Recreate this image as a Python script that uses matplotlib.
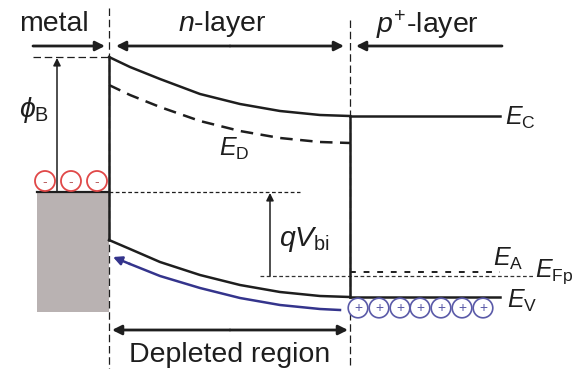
import matplotlib
matplotlib.use("Agg")
import matplotlib.pyplot as plt
from matplotlib.patches import Rectangle, Circle

plt.rcParams['font.family'] = ['Liberation Sans', 'DejaVu Sans']
plt.rcParams['mathtext.fontset'] = 'custom'
plt.rcParams['mathtext.rm'] = 'Liberation Sans'
plt.rcParams['mathtext.it'] = 'Liberation Sans:italic'
plt.rcParams['mathtext.bf'] = 'Liberation Sans:bold'

# layer boundaries (diagram units, y grows downward)
x_metal = 37
x_interface = 109
x_junction = 350
x_right = 500

# band levels in the n-layer, sampled along x
band_x = [109, 130, 160, 200, 240, 280, 320, 350]
ec_y = [57, 67, 79, 94, 104, 111, 115, 116]
ed_y = [85, 95, 107, 121, 131, 138, 142, 143]
ev_y = [240, 249, 262, 275, 285, 292, 296, 297]
hole_x = [113, 130, 160, 200, 240, 280, 320, 340]
hole_y = [257, 264, 276, 288, 298, 305, 309, 310]

barrier_top = 57
fermi_metal = 192
fermi_p = 276
acceptor = 272
metal_bottom = 312

electrons_x = [45, 71, 97]
electrons_y = 181
holes_x = [358, 379, 400, 420, 441, 462, 483]
holes_y = 308

INK = '#1e1e1e'
BLUE = '#34348c'

fig = plt.figure(figsize=(5.77, 3.69), dpi=100)
ax = fig.add_axes([0, 0, 1, 1])
ax.set_xlim(0, 577)
ax.set_ylim(369, 0)
ax.axis('off')

# metal block
ax.add_patch(Rectangle((x_metal, fermi_metal), x_interface - x_metal,
                       metal_bottom - fermi_metal, facecolor='#b9b2b2',
                       edgecolor='none', zorder=1))
ax.plot([x_metal, x_interface], [fermi_metal, fermi_metal], color=INK, lw=1.6, zorder=3)

# region borders
ax.plot([x_interface, x_interface], [8, 369], color=INK, lw=0.9, ls=(0, (6, 3)), zorder=2)
ax.plot([x_junction, x_junction], [20, 369], color=INK, lw=0.9, ls=(0, (6, 3)), zorder=2)
ax.plot([x_interface, x_interface], [barrier_top, ev_y[0]], color=INK, lw=1.8, zorder=3)
ax.plot([x_junction, x_junction], [ec_y[-1], ev_y[-1]], color=INK, lw=1.8, zorder=3)

# bands
ax.plot(band_x, ec_y, color=INK, lw=1.8, zorder=3)
ax.plot([x_junction, x_right], [ec_y[-1], ec_y[-1]], color=INK, lw=1.8, zorder=3)
ax.plot(band_x, ed_y, color=INK, lw=1.8, ls=(0, (5, 3)), zorder=3)
ax.plot(band_x, ev_y, color=INK, lw=1.8, zorder=3)
ax.plot([x_junction, x_right], [ev_y[-1], ev_y[-1]], color=INK, lw=1.8, zorder=3)

# Fermi levels and acceptor level
ax.plot([x_interface, 300], [fermi_metal, fermi_metal], color=INK, lw=0.9, ls=(0, (3, 2)), zorder=2)
ax.plot([260, 535], [fermi_p, fermi_p], color='#333333', lw=0.9, ls=(0, (3, 2)), zorder=2)
ax.plot([x_junction, x_right], [acceptor, acceptor], color=INK, lw=1.4, ls=(0, (3, 4)), zorder=2)
ax.plot([33, x_interface], [barrier_top, barrier_top], color=INK, lw=0.9, ls=(0, (6, 3)), zorder=2)

# hole flow towards the metal
ax.plot(hole_x[1:], hole_y[1:], color=BLUE, lw=1.8, zorder=3)
ax.annotate('', xy=(hole_x[0], hole_y[0]), xytext=(hole_x[1], hole_y[1]),
            arrowprops=dict(arrowstyle='-|>', color=BLUE, lw=1.8, mutation_scale=13,
                            shrinkA=0, shrinkB=0), zorder=3)

# charges
for cx in electrons_x:
    ax.add_patch(Circle((cx, electrons_y), 10, facecolor='white', edgecolor='#e04848',
                        lw=1.3, zorder=4))
    ax.text(cx, electrons_y + 1, '-', color='#b86060', fontsize=10, ha='center',
            va='center', zorder=5)
for cx in holes_x:
    ax.add_patch(Circle((cx, holes_y), 9.8, facecolor='white', edgecolor='#5a5aa8',
                        lw=1.2, zorder=4))
    ax.text(cx, holes_y, '+', color='#5a5aa8', fontsize=10, ha='center',
            va='center', zorder=5)


def arrow(x0, y0, x1, y1, lw=2.0, ms=14):
    ax.annotate('', xy=(x1, y1), xytext=(x0, y0),
                arrowprops=dict(arrowstyle='-|>', color=INK, lw=lw, mutation_scale=ms,
                                shrinkA=0, shrinkB=0), zorder=3)


# layer extents
arrow(33, 46, 105, 46)
arrow(230, 46, 116, 46)
arrow(230, 46, 344, 46)
arrow(502, 46, 356, 46)
arrow(230, 330, 112, 330)
arrow(230, 330, 348, 330)

# barrier height and built-in potential
arrow(57, fermi_metal, 57, barrier_top + 1, lw=1.1, ms=11)
arrow(270, fermi_p, 270, fermi_metal + 1, lw=1.1, ms=11)

fs = 20.5
ax.text(54, 24, 'metal', fontsize=fs, color=INK, ha='center', va='center')
ax.text(222, 24, '$n$-layer', fontsize=fs, color=INK, ha='center', va='center')
ax.text(427, 25, '$p^{+}$-layer', fontsize=fs, color=INK, ha='center', va='center')
ax.text(230, 355, 'Depleted region', fontsize=fs, color=INK, ha='center', va='center')

ax.text(34, 110, r'$\phi_\mathrm{B}$', fontsize=fs, color=INK, ha='center', va='center')
ax.text(305, 240, r'$qV_\mathrm{bi}$', fontsize=fs, color=INK, ha='center', va='center')

ls = 18
ax.text(505, 118, r'$E_\mathrm{C}$', fontsize=ls, color=INK, ha='left', va='center')
ax.text(219, 149, r'$E_\mathrm{D}$', fontsize=ls, color=INK, ha='left', va='center')
ax.text(493, 259, r'$E_\mathrm{A}$', fontsize=ls, color=INK, ha='left', va='center')
ax.text(535, 272, r'$E_\mathrm{Fp}$', fontsize=ls, color=INK, ha='left', va='center')
ax.text(507, 301, r'$E_\mathrm{V}$', fontsize=ls, color=INK, ha='left', va='center')

fig.savefig('out.png', dpi=100)
